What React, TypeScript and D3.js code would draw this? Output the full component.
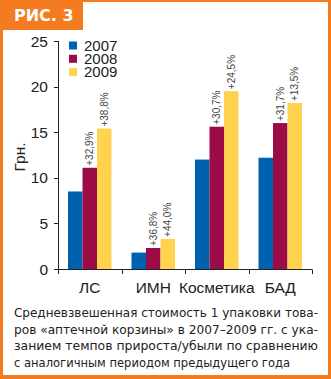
import React from "react";
import * as d3 from "d3";

const categories = ["ЛС", "ИМН", "Косметика", "БАД"];
const years = ["2007", "2008", "2009"];
const values2007 = [8.5, 1.8, 12.0, 12.2];
const values2008 = [11.1, 2.3, 15.6, 16.0];
const values2009 = [15.4, 3.3, 19.5, 18.2];
const labels2008 = ["+32,9%", "+36,8%", "+30,7%", "+31,7%"];
const labels2009 = ["+38,8%", "+44,0%", "+24,5%", "+13,5%"];
const yTicks = [0, 5, 10, 15, 20, 25];
const captionLines = [
  "Средневзвешенная стоимость 1 упаковки това-",
  "ров «аптечной корзины» в 2007–2009 гг. с ука-",
  "занием темпов прироста/убыли по сравнению",
  "с аналогичным периодом предыдущего года",
];

const W = 331;
const H = 379;
const ORANGE = "#F47B20";
const colors = ["#0061AE", "#9B0B45", "#FFD34F"];

export default function App() {
  const x0 = d3.scaleBand().domain(categories).range([58, 312]).paddingInner(0).paddingOuter(0);
  const x1 = d3.scaleBand().domain(years).range([10, x0.bandwidth() - 10]).padding(0);
  const y = d3.scaleLinear().domain([0, 25]).range([269, 41]);
  const series = [values2007, values2008, values2009];
  const labels = [null, labels2008, labels2009];
  const font = "'Liberation Sans', Arial, sans-serif";

  return (
    <svg width={W} height={H} style={{ position: "absolute", left: 0, top: 0 }} xmlns="http://www.w3.org/2000/svg">
      <rect x={0} y={0} width={W} height={H} fill={ORANGE} />
      <rect x={3} y={2} width={W - 6} height={H - 6} fill="#fff" />
      <rect x={0} y={0} width={83} height={30} fill={ORANGE} />
      <text x={14} y={21} fill="#fff" fontFamily="'DejaVu Sans', sans-serif" fontWeight="bold" fontSize={16}>
        РИС. 3
      </text>

      {/* y axis */}
      <line x1={58.5} x2={58.5} y1={y(25)} y2={y(0)} stroke="#222" strokeWidth={1} />
      {yTicks.map((t) => (
        <g key={t}>
          <line x1={54} x2={58.5} y1={Math.round(y(t)) + 0.5} y2={Math.round(y(t)) + 0.5} stroke="#222" />
          <text x={48} y={y(t) + 5.5} textAnchor="end" fontFamily={font} fontSize={15.5} fill="#222">
            {t}
          </text>
        </g>
      ))}
      <text
        transform={`translate(25, 157) rotate(-90)`}
        textAnchor="middle"
        fontFamily={font}
        fontSize={15.5}
        fill="#222"
      >
        Грн.
      </text>

      {/* x axis */}
      <line x1={58} x2={312} y1={269.5} y2={269.5} stroke="#222" />
      {[...categories.map((c) => x0(c) as number), 312].map((xv, i) => (
        <line key={i} x1={Math.round(xv) + 0.5} x2={Math.round(xv) + 0.5} y1={269.5} y2={274} stroke="#222" />
      ))}
      {categories.map((c) => (
        <text
          key={c}
          x={(x0(c) as number) + x0.bandwidth() / 2}
          y={293}
          textAnchor="middle"
          fontFamily={font}
          fontSize={15.5}
          fill="#222"
        >
          {c}
        </text>
      ))}

      {/* bars */}
      {categories.map((c, ci) => (
        <g key={c} transform={`translate(${x0(c)},0)`}>
          {years.map((yr, si) => {
            const v = series[si][ci];
            const bx = x1(yr) as number;
            const bw = x1.bandwidth();
            const lab = labels[si];
            return (
              <g key={yr}>
                <rect x={bx} y={y(v)} width={bw} height={y(0) - y(v)} fill={colors[si]} />
                {lab && (
                  <text
                    transform={`translate(${bx + bw / 2 + 3.5}, ${y(v) - 2}) rotate(-90)`}
                    fontFamily={font}
                    fontSize={10}
                    fill="#444"
                  >
                    {lab[ci]}
                  </text>
                )}
              </g>
            );
          })}
        </g>
      ))}

      {/* legend */}
      {years.map((yr, i) => (
        <g key={yr} transform={`translate(69, ${41.5 + i * 13.3})`}>
          <rect x={0} y={0} width={8} height={8} fill={colors[i]} />
          <text x={15} y={9} fontFamily={font} fontSize={15} fill="#222">
            {yr}
          </text>
        </g>
      ))}

      {/* caption */}
      {captionLines.map((l, i) => (
        <text
          key={i}
          x={14}
          y={317 + i * 16.6}
          fontFamily="'DejaVu Sans', sans-serif"
          fontSize={12.5}
          fill="#222"
          textLength={i < 3 ? 304 : 276}
          lengthAdjust="spacingAndGlyphs"
        >
          {l}
        </text>
      ))}
    </svg>
  );
}
